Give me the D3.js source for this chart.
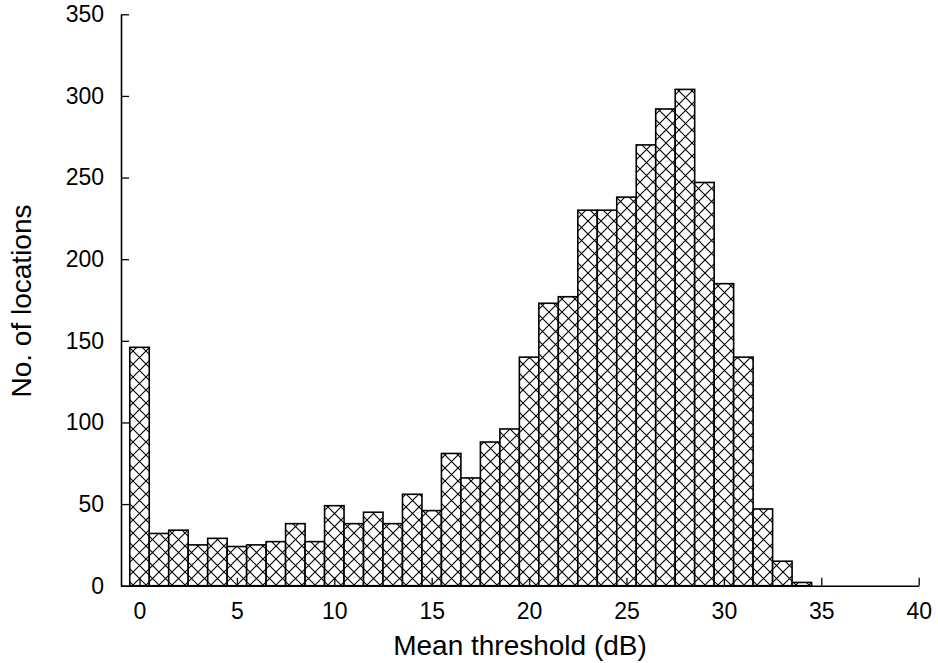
<!DOCTYPE html>
<html>
<head>
<meta charset="utf-8">
<script src="https://cdn.jsdelivr.net/npm/d3@7"></script>
<style>
  html, body { margin: 0; padding: 0; background: #fff; }
  svg { display: block; }
  text { font-family: "Liberation Sans", Arial, Helvetica, sans-serif; fill: #000; }
</style>
</head>
<body>
<svg id="chart" width="938" height="663"></svg>
<script>
// Data
const thresholds = [0,1,2,3,4,5,6,7,8,9,10,11,12,13,14,15,16,17,18,19,20,21,22,23,24,25,26,27,28,29,30,31,32,33,34];
const counts = [146,32,34,25,29,24,25,27,38,27,49,38,45,38,56,46,81,66,88,96,140,173,177,230,230,238,270,292,304,247,185,140,47,15,2];
const xTicks = [0,5,10,15,20,25,30,35,40];
const yTicks = [0,50,100,150,200,250,300,350];

(function () {
const svg = d3.select("#chart");
const mLeft = 121, mRight = 918.7, mTop = 14.3, mBottom = 585.7;

const x = d3.scaleLinear().domain([-0.95, 40]).range([mLeft, mRight]);
const y = d3.scaleLinear().domain([0, 350]).range([mBottom, mTop]);
const bw = x(1) - x(0);

// Cross-hatch pattern
const defs = svg.append("defs");
const p = 13;
const pat = defs.append("pattern")
  .attr("id", "xhatch")
  .attr("patternUnits", "userSpaceOnUse")
  .attr("width", p).attr("height", p)
  .attr("x", x(0) - p / 2).attr("y", 0);
pat.append("rect").attr("width", p).attr("height", p).attr("fill", "#fff");
pat.append("path")
  .attr("d", `M0,0L${p},${p}M${p},0L0,${p}`)
  .attr("stroke", "#000").attr("stroke-width", 1.1).attr("fill", "none");

// Bars
svg.append("g").selectAll("rect")
  .data(thresholds.map((t, i) => ({ t, v: counts[i] })))
  .join("rect")
  .attr("x", d => x(d.t) - bw / 2)
  .attr("width", bw)
  .attr("y", d => y(d.v))
  .attr("height", d => y(0) - y(d.v))
  .attr("fill", "url(#xhatch)")
  .attr("stroke", "#000")
  .attr("stroke-width", 1.6);

// Axes
const xAxis = d3.axisBottom(x).tickValues(xTicks).tickSizeInner(-8).tickSizeOuter(0).tickPadding(17);
const gx = svg.append("g").attr("transform", `translate(0,${mBottom})`).call(xAxis);
gx.select(".domain").attr("stroke", "#000").attr("stroke-width", 1.6);
gx.selectAll(".tick line").attr("stroke", "#000").attr("stroke-width", 1.3);
gx.selectAll(".tick text").attr("font-size", 23).attr("font-family", "Liberation Sans, Arial, sans-serif");

const yAxis = d3.axisLeft(y).tickValues(yTicks).tickSizeInner(-8).tickSizeOuter(0).tickPadding(17);
const gy = svg.append("g").attr("transform", `translate(${mLeft},0)`).call(yAxis);
gy.select(".domain").attr("stroke", "#000").attr("stroke-width", 1.6);
gy.selectAll(".tick line").attr("stroke", "#000").attr("stroke-width", 1.3);
gy.selectAll(".tick text").attr("font-size", 23).attr("font-family", "Liberation Sans, Arial, sans-serif");

// Titles
svg.append("text")
  .attr("x", 520).attr("y", 655)
  .attr("text-anchor", "middle")
  .attr("font-size", 28)
  .text("Mean threshold (dB)");
svg.append("text")
  .attr("transform", "translate(31,301) rotate(-90)")
  .attr("text-anchor", "middle")
  .attr("font-size", 28)
  .text("No. of locations");
})();
</script>
</body>
</html>
